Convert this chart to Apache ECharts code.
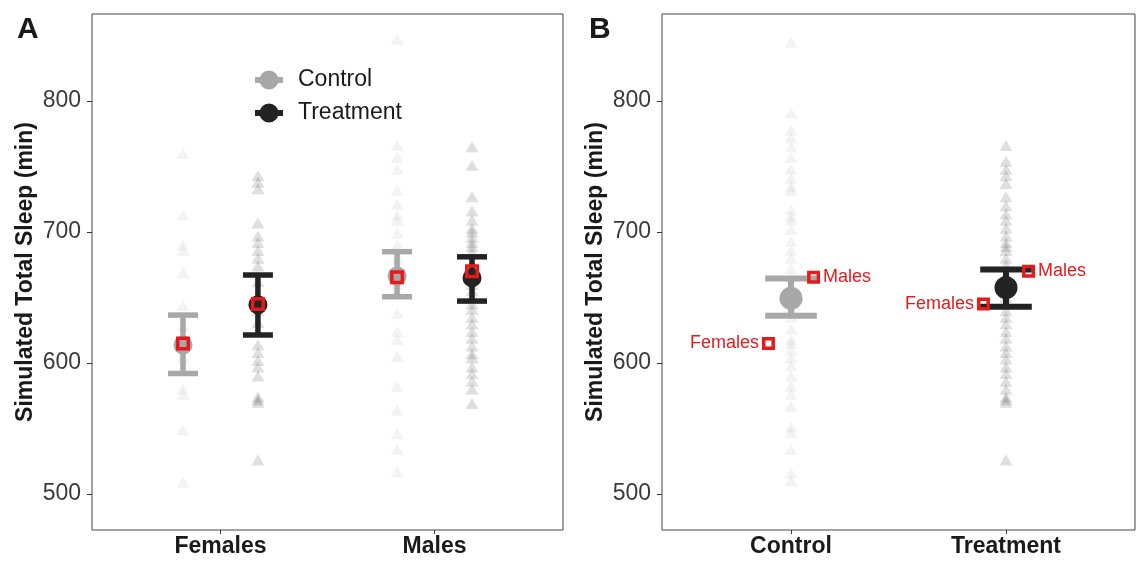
<!DOCTYPE html>
<html>
<head>
<meta charset="utf-8">
<script src="https://cdn.jsdelivr.net/npm/echarts@6/dist/echarts.min.js"></script>
<style>
  html, body { margin: 0; padding: 0; background: #fff; }
  #chart { width: 1145px; height: 561px; }
</style>
</head>
<body>
<div id="chart"></div>
<script>
// ---- categories and ticks ----
const sexes = ['Females', 'Males'];
const groups = ['Control', 'Treatment'];
const yTicks = [500, 600, 700, 800];

// ---- panel A: simulated totals by sex and group (min) ----
const femaleControl = [760, 713, 690, 686, 669, 644, 628, 612, 604, 580, 576, 549, 509];
const femaleTreatment = [743, 738, 733, 707, 697, 692, 686, 680, 674, 662, 651, 640, 631,
  614, 608, 602, 597, 590, 574, 572, 570, 526];
const maleControl = [847, 766, 757, 748, 732, 721, 713, 709, 699, 690, 680, 672, 660, 655,
  638, 624, 618, 605, 582, 564, 546, 534, 517];
const maleTreatment = [765, 751, 727, 716, 709, 703, 700, 696, 692, 689, 685, 676, 668, 660,
  655, 650, 645, 641, 635, 630, 624, 619, 613, 607, 604, 597, 592, 586, 580, 569];

// model estimates per sex (Females, Males)
const controlEst = [613.7, 666.5];
const controlLow = [592.0, 650.6];
const controlHigh = [636.6, 685.0];
const treatEst = [644.5, 665.0];
const treatLow = [621.4, 647.3];
const treatHigh = [667.2, 681.1];

// observed means per sex (Females, Males)
const controlObs = [615, 665.5];
const treatObs = [645, 670];

// ---- panel B: pooled over sex (Control, Treatment) ----
const pooledControl = [845, 791, 778, 772, 765, 757, 748, 741, 735, 732, 717, 712, 709, 702,
  693, 686, 680, 672, 665, 658, 650, 642, 635, 626, 618, 615, 610, 604, 598, 590, 582, 576,
  567, 551, 547, 534, 516, 510];
const pooledTreatment = [766, 754, 748, 743, 737, 727, 720, 714, 709, 703, 697, 692, 689, 686,
  680, 675, 668, 662, 655, 650, 645, 640, 635, 630, 624, 619, 613, 608, 603, 597, 592, 586,
  580, 574, 572, 570, 526];
const pooledEst = [649.4, 657.5];
const pooledLow = [636.0, 643.0];
const pooledHigh = [664.5, 671.5];

// ---- styling ----
const FONT = '"Liberation Sans", Arial, Helvetica, sans-serif';
const ctrlColor = '#a8a8a8';
const trtColor = '#232323';
const ctrlPoint = 'rgba(160,160,160,0.16)';
const trtPoint = 'rgba(40,40,40,0.19)';
const red = '#e41a1c';
const dodge = 0.175;     // group offset inside a sex, panel A
const sexNudge = 0.105;  // sex marker offset, panel B
const keyIcon = 'path://M0,7H28V13H0Z M23.5,10A9.5,9.5 0 1 1 4.5,10A9.5,9.5 0 1 1 23.5,10Z';

const chart = echarts.init(document.getElementById('chart'), null, { renderer: 'canvas' });

function xAxisFor(grid, names) {
  return {
    type: 'value', gridIndex: grid, min: 0.4, max: 2.6,
    axisLine: { show: false }, splitLine: { show: false },
    axisTick: { show: true, customValues: [1, 2], length: 4, lineStyle: { color: '#333', width: 1 } },
    axisLabel: {
      customValues: [1, 2], formatter: v => names[Math.round(v) - 1],
      fontSize: 23, fontWeight: 'bold', color: '#1a1a1a', fontFamily: FONT, margin: 5
    }
  };
}
function yAxisFor(grid) {
  return {
    type: 'value', gridIndex: grid, min: 472.5, max: 866.5,
    axisLine: { show: false }, splitLine: { show: false },
    axisTick: { show: true, customValues: yTicks, length: 5, lineStyle: { color: '#333', width: 1 } },
    axisLabel: { customValues: yTicks, fontSize: 23, color: '#3a3a3a', fontFamily: FONT, margin: 11 },
    name: 'Simulated Total Sleep (min)', nameLocation: 'middle', nameGap: 55,
    nameTextStyle: { fontSize: 23, fontWeight: 'bold', color: '#1a1a1a', fontFamily: FONT }
  };
}

function points(name, grid, x, values, color) {
  return {
    name, type: 'scatter', xAxisIndex: grid, yAxisIndex: grid,
    symbol: 'triangle', symbolSize: [13, 11],
    itemStyle: { color }, z: 1, silent: true,
    data: values.map(v => [x, v])
  };
}

function errorBars(name, grid, rows, color, capHalf, lw) {
  return {
    name, type: 'custom', xAxisIndex: grid, yAxisIndex: grid, z: 3, silent: true,
    encode: { x: 0, y: [1, 2] },
    data: rows,
    renderItem(params, api) {
      const x = api.value(0), lo = api.value(1), hi = api.value(2);
      const a = api.coord([x, lo]), b = api.coord([x, hi]);
      const l1 = api.coord([x - capHalf, lo]), r1 = api.coord([x + capHalf, lo]);
      const l2 = api.coord([x - capHalf, hi]), r2 = api.coord([x + capHalf, hi]);
      const style = { stroke: color, lineWidth: lw, fill: null };
      return {
        type: 'group', children: [
          { type: 'line', shape: { x1: a[0], y1: a[1], x2: b[0], y2: b[1] }, style },
          { type: 'line', shape: { x1: l1[0], y1: l1[1], x2: r1[0], y2: r1[1] }, style },
          { type: 'line', shape: { x1: l2[0], y1: l2[1], x2: r2[0], y2: r2[1] }, style }
        ]
      };
    }
  };
}

function means(name, grid, rows, color, size) {
  return {
    name, type: 'scatter', xAxisIndex: grid, yAxisIndex: grid,
    symbol: 'circle', symbolSize: size, itemStyle: { color, opacity: 1 }, z: 4, silent: true,
    data: rows
  };
}

function observed(name, grid, rows, size, labelPos) {
  return {
    name, type: 'scatter', xAxisIndex: grid, yAxisIndex: grid,
    symbol: 'rect', symbolSize: size,
    itemStyle: { color: 'rgba(0,0,0,0)', borderColor: red, borderWidth: 3.5, opacity: 1 },
    z: 5, silent: true,
    label: labelPos ? {
      show: true, position: labelPos, distance: 3, formatter: '{b}',
      fontSize: 18, color: red, fontFamily: FONT
    } : { show: false },
    data: rows
  };
}

const ctrlX = [1 - dodge, 2 - dodge];
const trtX = [1 + dodge, 2 + dodge];

const series = [
  // panel A estimates (listed first so the legend keys read their colours)
  means('Control', 0, ctrlX.map((x, i) => [x, controlEst[i]]), ctrlColor, 19),
  means('Treatment', 0, trtX.map((x, i) => [x, treatEst[i]]), trtColor, 19),
  errorBars('Control', 0, ctrlX.map((x, i) => [x, controlLow[i], controlHigh[i]]), ctrlColor, 0.07, 5.5),
  errorBars('Treatment', 0, trtX.map((x, i) => [x, treatLow[i], treatHigh[i]]), trtColor, 0.07, 5.5),
  // panel A raw values
  points('Control', 0, ctrlX[0], femaleControl, ctrlPoint),
  points('Treatment', 0, trtX[0], femaleTreatment, trtPoint),
  points('Control', 0, ctrlX[1], maleControl, ctrlPoint),
  points('Treatment', 0, trtX[1], maleTreatment, trtPoint),
  observed('Control', 0, ctrlX.map((x, i) => [x, controlObs[i]]), 10.5),
  observed('Treatment', 0, trtX.map((x, i) => [x, treatObs[i]]), 10.5),

  // panel B
  points('Pooled control', 1, 1, pooledControl, ctrlPoint),
  points('Pooled treatment', 1, 2, pooledTreatment, trtPoint),
  errorBars('Pooled control', 1, [[1, pooledLow[0], pooledHigh[0]]], ctrlColor, 0.12, 6),
  errorBars('Pooled treatment', 1, [[2, pooledLow[1], pooledHigh[1]]], trtColor, 0.12, 6),
  means('Pooled control', 1, [[1, pooledEst[0]]], ctrlColor, 23),
  means('Pooled treatment', 1, [[2, pooledEst[1]]], trtColor, 23),
  // observed sex means placed beside each group
  observed('Female means', 1, [
    { name: sexes[0], value: [1 - sexNudge, controlObs[0]] },
    { name: sexes[0], value: [2 - sexNudge, treatObs[0]] }
  ], 9.5, 'left'),
  observed('Male means', 1, [
    { name: sexes[1], value: [1 + sexNudge, controlObs[1]] },
    { name: sexes[1], value: [2 + sexNudge, treatObs[1]] }
  ], 9.5, 'right')
];

chart.setOption({
  animation: false,
  backgroundColor: '#fff',
  title: [
    { text: 'A', left: 12, top: 10, textStyle: { fontSize: 30, fontWeight: 'bold', color: '#1a1a1a', fontFamily: FONT } },
    { text: 'B', left: 584, top: 10, textStyle: { fontSize: 30, fontWeight: 'bold', color: '#1a1a1a', fontFamily: FONT } }
  ],
  legend: {
    orient: 'vertical', left: 255, top: 68, padding: 0,
    itemWidth: 28, itemHeight: 20, itemGap: 9,
    selectedMode: false,
    textStyle: { fontSize: 23, color: '#1a1a1a', fontFamily: FONT, padding: [0, 0, 0, 10], lineHeight: 24 },
    data: [
      { name: groups[0], icon: keyIcon, itemStyle: { color: ctrlColor, opacity: 1 } },
      { name: groups[1], icon: keyIcon, itemStyle: { color: trtColor, opacity: 1 } }
    ]
  },
  grid: [
    { left: 92, top: 14, width: 471, height: 516, show: true, borderColor: '#444', borderWidth: 1, backgroundColor: 'transparent' },
    { left: 662, top: 14, width: 473, height: 516, show: true, borderColor: '#444', borderWidth: 1, backgroundColor: 'transparent' }
  ],
  xAxis: [xAxisFor(0, sexes), xAxisFor(1, groups)],
  yAxis: [yAxisFor(0), yAxisFor(1)],
  series
});
</script>
</body>
</html>
